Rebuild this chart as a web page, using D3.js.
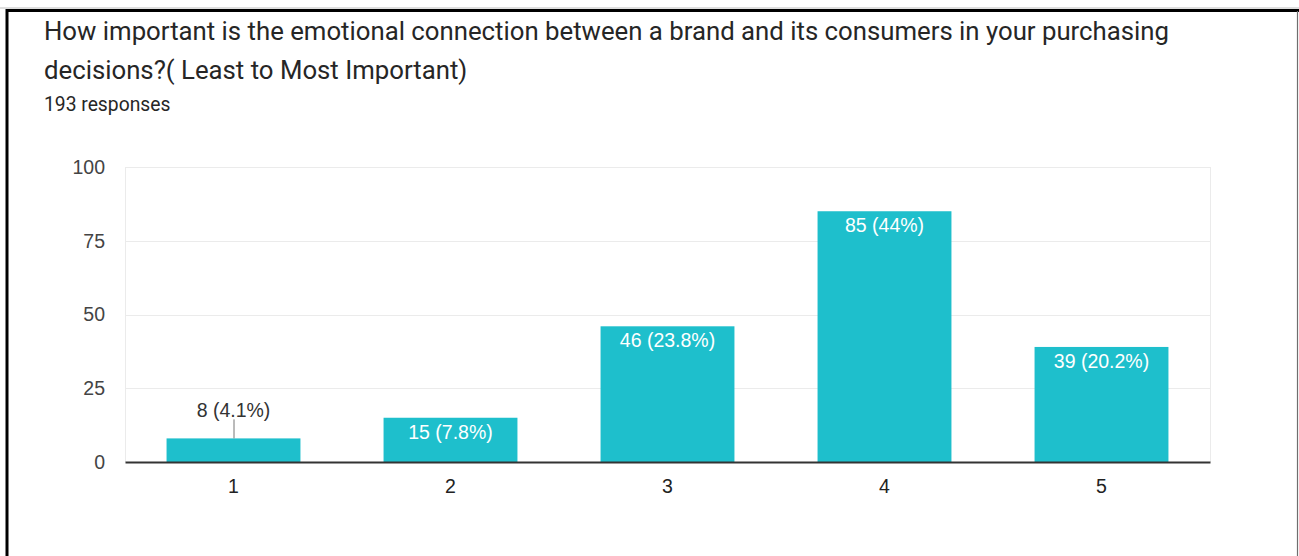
<!DOCTYPE html>
<html>
<head>
<meta charset="utf-8">
<script src="https://cdn.jsdelivr.net/npm/d3@7/dist/d3.min.js"></script>
<style>
  html, body { margin: 0; padding: 0; background: #fff; }
  svg { display: block; }
</style>
</head>
<body>
<svg id="chart" width="1299" height="556"></svg>
<script>
// Survey answers: rating scale 1..5, response counts and their share
const categories = ["1", "2", "3", "4", "5"];
const counts = [8, 15, 46, 85, 39];
const percents = ["4.1%", "7.8%", "23.8%", "44%", "20.2%"];
const yTicks = [0, 25, 50, 75, 100];
const titleLines = [
  "How important is the emotional connection between a brand and its consumers in your purchasing",
  "decisions?( Least to Most Important)"
];
const subtitle = "193 responses";

const svg = d3.select("#chart");
const W = 1299, H = 556;
const margin = { top: 167, right: 89, bottom: 94, left: 125 };
const plotW = W - margin.left - margin.right;
const plotH = H - margin.top - margin.bottom;

const barColor = "#1ebfcc";
const labelFont = "'Liberation Sans', Arial, sans-serif";
const labelSize = 19.5;

// card frame
svg.append("line").attr("x1", 0).attr("x2", W).attr("y1", 8).attr("y2", 8)
  .attr("stroke", "#bdbdbd").attr("stroke-width", 1);
svg.append("line").attr("x1", 7).attr("x2", W).attr("y1", 10.5).attr("y2", 10.5)
  .attr("stroke", "#000").attr("stroke-width", 3);
svg.append("line").attr("x1", 7).attr("x2", 7).attr("y1", 9).attr("y2", H)
  .attr("stroke", "#000").attr("stroke-width", 3);
svg.append("line").attr("x1", 1297.5).attr("x2", 1297.5).attr("y1", 11).attr("y2", H)
  .attr("stroke", "#6e6e6e").attr("stroke-width", 1.2);

// heading
const head = svg.append("g").attr("font-family", "Roboto, sans-serif").attr("fill", "#262626");
titleLines.forEach((t, i) => {
  head.append("text").attr("x", 44).attr("y", 39.5 + i * 39.5)
    .attr("font-size", 25.75).text(t);
});
head.append("text").attr("x", 44).attr("y", 111)
  .attr("font-size", 19.3).text(subtitle);

const g = svg.append("g").attr("transform", `translate(${margin.left},${margin.top})`);

const x = d3.scaleBand().domain(categories).range([0, plotW])
  .paddingInner(0.383).paddingOuter(0.383 / 2);
const y = d3.scaleLinear().domain([0, 100]).range([plotH, 0]);

// horizontal gridlines
g.append("g").selectAll("line").data(yTicks.filter(d => d > 0)).join("line")
  .attr("x1", 0).attr("x2", plotW)
  .attr("y1", d => Math.round(y(d)) + 0.5).attr("y2", d => Math.round(y(d)) + 0.5)
  .attr("stroke", "#ebebeb").attr("stroke-width", 1);
// side borders of the plot area
g.append("g").selectAll("line").data([0, plotW]).join("line")
  .attr("x1", d => d + 0.5).attr("x2", d => d + 0.5)
  .attr("y1", y(100)).attr("y2", y(0))
  .attr("stroke", "#ebebeb").attr("stroke-width", 1);

// y axis labels
const yAxis = d3.axisLeft(y).tickValues(yTicks).tickSize(0).tickPadding(20);
g.append("g").call(yAxis)
  .call(s => s.select(".domain").remove())
  .call(s => s.selectAll("text")
    .attr("font-family", labelFont).attr("font-size", labelSize).attr("fill", "#444"));

// bars
g.append("g").selectAll("rect").data(categories).join("rect")
  .attr("x", d => x(d))
  .attr("y", (d, i) => y(counts[i]))
  .attr("width", x.bandwidth())
  .attr("height", (d, i) => y(0) - y(counts[i]))
  .attr("fill", barColor);

// x axis
const xAxis = d3.axisBottom(x).tickSize(0).tickPadding(17.5);
g.append("g").attr("transform", `translate(0,${plotH})`).call(xAxis)
  .call(s => s.select(".domain").attr("stroke", "#333").attr("stroke-width", 2))
  .call(s => s.selectAll("text")
    .attr("font-family", labelFont).attr("font-size", labelSize).attr("fill", "#222"));

// value labels: inside the bar top when it fits, otherwise above with a leader line
const labels = g.append("g").attr("font-family", labelFont).attr("font-size", labelSize)
  .attr("text-anchor", "middle");
categories.forEach((c, i) => {
  const cx = x(c) + x.bandwidth() / 2;
  const top = y(counts[i]);
  const txt = `${counts[i]} (${percents[i]})`;
  if (y(0) - top > 32) {
    labels.append("text").attr("x", cx).attr("y", top + 21)
      .attr("fill", "#fff").text(txt);
  } else {
    labels.append("line").attr("x1", cx + 0.5).attr("x2", cx + 0.5)
      .attr("y1", top).attr("y2", top - 19)
      .attr("stroke", "#777").attr("stroke-width", 1);
    labels.append("text").attr("x", cx).attr("y", top - 21)
      .attr("fill", "#333").text(txt);
  }
});
</script>
</body>
</html>
